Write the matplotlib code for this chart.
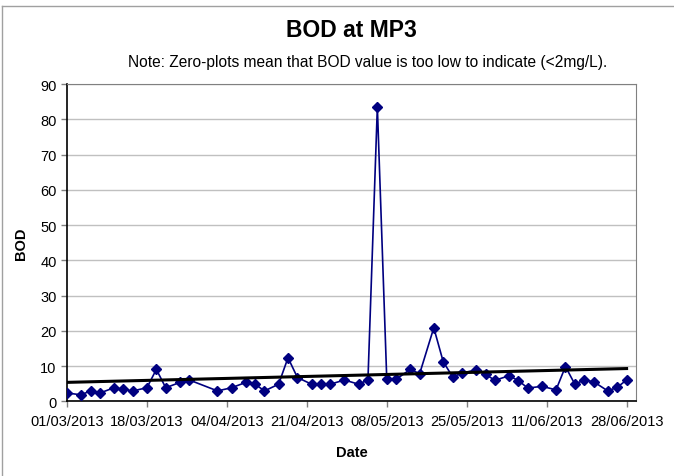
import numpy as np
import pandas as pd
import matplotlib
matplotlib.use('Agg')
import matplotlib.pyplot as plt
import matplotlib.dates as mdates
from matplotlib.lines import Line2D

plt.rcParams['font.family'] = ['Liberation Sans', 'DejaVu Sans']

# Sampling dates and BOD readings (mg/L)
dates = ['01/03/2013', '04/03/2013', '06/03/2013', '08/03/2013', '11/03/2013',
         '13/03/2013', '15/03/2013', '18/03/2013', '20/03/2013', '22/03/2013',
         '25/03/2013', '27/03/2013', '02/04/2013', '05/04/2013', '08/04/2013',
         '10/04/2013', '12/04/2013', '15/04/2013', '17/04/2013', '19/04/2013',
         '22/04/2013', '24/04/2013', '26/04/2013', '29/04/2013', '02/05/2013',
         '04/05/2013', '06/05/2013', '08/05/2013', '10/05/2013', '13/05/2013',
         '15/05/2013', '18/05/2013', '20/05/2013', '22/05/2013', '24/05/2013',
         '27/05/2013', '29/05/2013', '31/05/2013', '03/06/2013', '05/06/2013',
         '07/06/2013', '10/06/2013', '13/06/2013', '15/06/2013', '17/06/2013',
         '19/06/2013', '21/06/2013', '24/06/2013', '26/06/2013', '28/06/2013']
bod = [2.4, 1.9, 3.0, 2.4, 3.9, 3.4, 3.0, 3.9, 9.1, 3.9,
       5.4, 6.1, 3.0, 3.9, 5.4, 4.9, 3.0, 4.9, 12.4, 6.8,
       4.9, 4.9, 4.9, 6.1, 4.9, 6.1, 83.5, 6.3, 6.3, 9.1,
       7.9, 20.9, 11.3, 7.0, 8.0, 9.0, 7.7, 6.0, 7.3, 5.9,
       3.8, 4.3, 3.3, 9.9, 4.9, 6.1, 5.6, 3.0, 4.0, 6.1]

x = pd.to_datetime(dates, format='%d/%m/%Y')
xn = mdates.date2num(x)

# Linear trend line
k, b = np.polyfit(xn, bod, 1)
trend_x = np.array([xn[0], xn[-1]])

fig = plt.figure(figsize=(6.74, 4.77), dpi=100)
ax = fig.add_axes([0.0994, 0.1562, 0.8442, 0.6656])

ax.plot(x, bod, color='#000080', lw=1.2, marker='D', ms=5, zorder=3)
ax.plot(mdates.num2date(trend_x), k * trend_x + b, color='black', lw=2.2, zorder=4)

ticks = pd.date_range('2013-03-01', periods=8, freq='17D')
ax.set_xticks(ticks)
ax.xaxis.set_major_formatter(mdates.DateFormatter('%d/%m/%Y'))
ax.set_xlim(pd.Timestamp('2013-03-01'), pd.Timestamp('2013-06-30'))
ax.set_ylim(0, 90)
ax.set_yticks(range(0, 91, 10))
ax.tick_params(labelsize=10.5, colors='#808080', labelcolor='black', length=4, width=1)
ax.tick_params(axis='x', pad=5)
ax.yaxis.grid(True, color='#c0c0c0', lw=1)
ax.set_axisbelow(True)
for s in ['top', 'right']:
    ax.spines[s].set_color('#808080')
for s in ['left', 'bottom']:
    ax.spines[s].set_color('black')
    ax.spines[s].set_linewidth(1.2)

ax.set_xlabel('Date', fontsize=10.5, fontweight='bold', labelpad=12)
ax.set_ylabel('BOD', fontsize=10.5, fontweight='bold', labelpad=9)

fig.text(0.522, 0.937, 'BOD at MP3', ha='center', va='center', fontsize=16.5, fontweight='bold')
fig.text(0.545, 0.869, 'Note: Zero-plots mean that BOD value is too low to indicate (<2mg/L).',
         ha='center', va='center', fontsize=11.2)

# outer chart border
fig.add_artist(Line2D([0.003, 0.003], [0, 0.985], color='#a0a0a0', lw=1, transform=fig.transFigure))
fig.add_artist(Line2D([0.003, 1], [0.985, 0.985], color='#a0a0a0', lw=1, transform=fig.transFigure))

fig.savefig('out.png', dpi=100)
